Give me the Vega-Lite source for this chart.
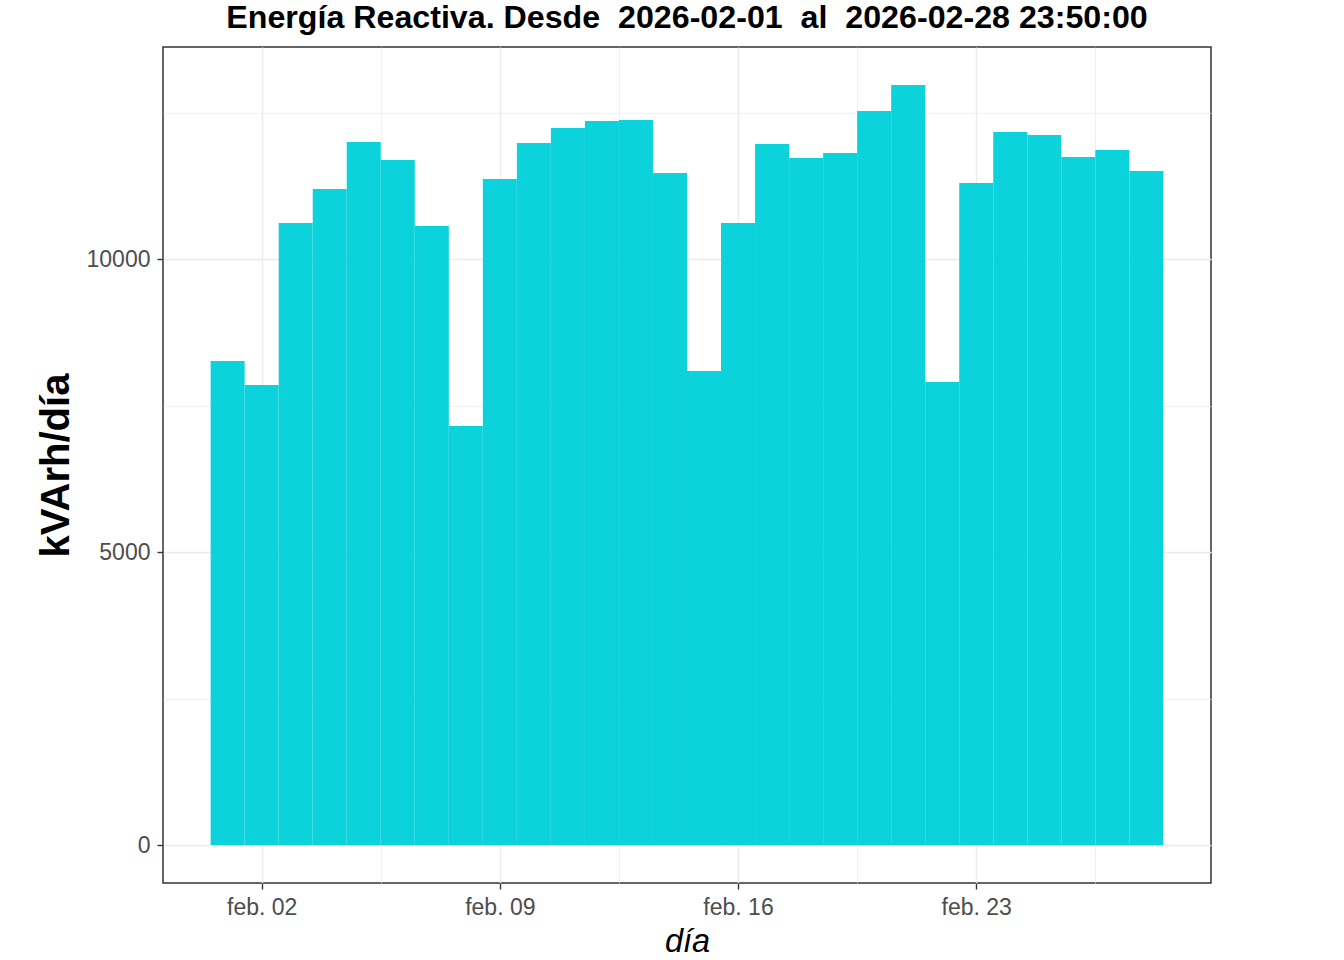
{
  "$schema": "https://vega.github.io/schema/vega-lite/v6.json",
  "autosize": {"type": "none"},
  "padding": {"left": 163, "top": 47, "right": 133, "bottom": 77},
  "width": 1048,
  "height": 836,
  "background": "white",
  "config": {
    "font": "Liberation Sans",
    "view": {"stroke": "#333333", "strokeWidth": 1.5},
    "axis": {
      "domain": false,
      "gridColor": "#EBEBEB",
      "tickColor": "#333333",
      "tickWidth": 1.4,
      "tickSize": 6,
      "labelColor": "#4D4D4D",
      "labelFont": "Liberation Sans",
      "labelFontSize": 23,
      "titleColor": "#000000",
      "titleFont": "Liberation Sans"
    }
  },
  "title": {
    "text": "Energía Reactiva. Desde \u00a02026-02-01 \u00a0al \u00a02026-02-28 23:50:00",
    "anchor": "middle",
    "font": "Liberation Sans",
    "fontSize": 32.2,
    "fontWeight": "bold",
    "color": "#000000",
    "offset": 12
  },
  "data": {
    "values": [
      {"dia": "2026-02-01", "kvarh": 8259},
      {"dia": "2026-02-02", "kvarh": 7850},
      {"dia": "2026-02-03", "kvarh": 10614},
      {"dia": "2026-02-04", "kvarh": 11195},
      {"dia": "2026-02-05", "kvarh": 11997},
      {"dia": "2026-02-06", "kvarh": 11689},
      {"dia": "2026-02-07", "kvarh": 10563},
      {"dia": "2026-02-08", "kvarh": 7150},
      {"dia": "2026-02-09", "kvarh": 11365},
      {"dia": "2026-02-10", "kvarh": 11980},
      {"dia": "2026-02-11", "kvarh": 12235},
      {"dia": "2026-02-12", "kvarh": 12355},
      {"dia": "2026-02-13", "kvarh": 12372},
      {"dia": "2026-02-14", "kvarh": 11468},
      {"dia": "2026-02-15", "kvarh": 8089},
      {"dia": "2026-02-16", "kvarh": 10614},
      {"dia": "2026-02-17", "kvarh": 11962},
      {"dia": "2026-02-18", "kvarh": 11724},
      {"dia": "2026-02-19", "kvarh": 11809},
      {"dia": "2026-02-20", "kvarh": 12526},
      {"dia": "2026-02-21", "kvarh": 12969},
      {"dia": "2026-02-22", "kvarh": 7901},
      {"dia": "2026-02-23", "kvarh": 11297},
      {"dia": "2026-02-24", "kvarh": 12167},
      {"dia": "2026-02-25", "kvarh": 12116},
      {"dia": "2026-02-26", "kvarh": 11741},
      {"dia": "2026-02-27", "kvarh": 11860},
      {"dia": "2026-02-28", "kvarh": 11502}
    ]
  },
  "mark": {"type": "bar", "color": "#0BD2DB", "width": 34, "clip": true},
  "encoding": {
    "x": {
      "field": "dia",
      "type": "temporal",
      "scale": {
        "type": "utc",
        "nice": false,
        "padding": 0,
        "domain": [
          {"year": 2026, "month": 1, "date": 30, "hours": 2, "minutes": 24, "utc": true},
          {"year": 2026, "month": 3, "date": 1, "hours": 21, "minutes": 36, "utc": true}
        ]
      },
      "axis": {
        "title": "día",
        "titleFontSize": 32.5,
        "titleFontStyle": "italic",
        "titleFontWeight": "normal",
        "titlePadding": 6,
        "labelPadding": 7,
        "values": [
          {"year": 2026, "month": 2, "date": 2, "utc": true},
          {"year": 2026, "month": 2, "date": 5, "hours": 12, "utc": true},
          {"year": 2026, "month": 2, "date": 9, "utc": true},
          {"year": 2026, "month": 2, "date": 12, "hours": 12, "utc": true},
          {"year": 2026, "month": 2, "date": 16, "utc": true},
          {"year": 2026, "month": 2, "date": 19, "hours": 12, "utc": true},
          {"year": 2026, "month": 2, "date": 23, "utc": true},
          {"year": 2026, "month": 2, "date": 26, "hours": 12, "utc": true}
        ],
        "labelExpr": "utchours(datum.value) == 12 ? '' : 'feb. ' + utcFormat(datum.value, '%d')",
        "tickOpacity": {"condition": {"test": "utchours(datum.value) == 12", "value": 0}, "value": 1},
        "gridWidth": {"condition": {"test": "utchours(datum.value) == 12", "value": 0.7}, "value": 1.4}
      }
    },
    "y": {
      "field": "kvarh",
      "type": "quantitative",
      "scale": {"domain": [-648, 13618], "nice": false, "zero": false},
      "axis": {
        "title": "kVArh/día",
        "titleFontSize": 40,
        "titleFontWeight": "bold",
        "titlePadding": 10,
        "labelPadding": 7,
        "values": [0, 2500, 5000, 7500, 10000, 12500],
        "labelExpr": "datum.value % 5000 == 0 ? '' + datum.value : ''",
        "tickOpacity": {"condition": {"test": "datum.value % 5000 != 0", "value": 0}, "value": 1},
        "gridWidth": {"condition": {"test": "datum.value % 5000 != 0", "value": 0.7}, "value": 1.4}
      }
    }
  }
}
